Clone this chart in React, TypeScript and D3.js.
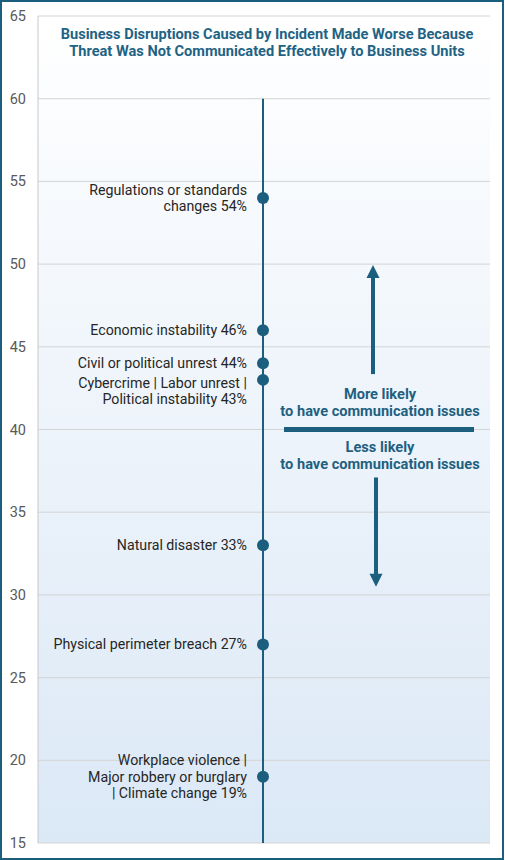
import React, { useEffect, useRef } from "react";
import * as d3 from "d3";

// Data
const labelLines: string[][] = [
  ["Regulations or standards", "changes 54%"],
  ["Economic instability 46%"],
  ["Civil or political unrest 44%"],
  ["Cybercrime | Labor unrest |", "Political instability 43%"],
  ["Natural disaster 33%"],
  ["Physical perimeter breach 27%"],
  ["Workplace violence |", "Major robbery or burglary", "| Climate change 19%"],
];
const values = [54, 46, 44, 43, 33, 27, 19];
const yTicks = [15, 20, 25, 30, 35, 40, 45, 50, 55, 60, 65];
const titleLines = [
  "Business Disruptions Caused by Incident Made Worse Because",
  "Threat Was Not Communicated Effectively to Business Units",
];
const moreLines = ["More likely", "to have communication issues"];
const lessLines = ["Less likely", "to have communication issues"];

const W = 505;
const H = 860;
const TEAL = "#1b5e7e";
const FONT = "Roboto, sans-serif";

const App = () => {
  const svgRef = useRef<SVGSVGElement | null>(null);

  useEffect(() => {
    if (!svgRef.current) return;
    const svg = d3.select(svgRef.current);
    svg.selectAll("*").remove();

    const left = 38, right = 490;
    const y = d3.scaleLinear().domain([15, 65]).range([843, 16]);
    const xLine = 263;

    // gradient
    const defs = svg.append("defs");
    const grad = defs.append("linearGradient")
      .attr("id", "bg").attr("x1", 0).attr("y1", 0).attr("x2", 0).attr("y2", 1);
    grad.append("stop").attr("offset", "0%").attr("stop-color", "#ffffff");
    grad.append("stop").attr("offset", "100%").attr("stop-color", "#dbe8f6");

    svg.append("rect")
      .attr("x", 0).attr("y", 0).attr("width", W).attr("height", H)
      .attr("fill", "#ffffff");

    // plot area
    svg.append("rect")
      .attr("x", left).attr("y", y(65))
      .attr("width", right - left).attr("height", y(15) - y(65))
      .attr("fill", "url(#bg)");

    // gridlines
    svg.append("g").selectAll("line").data(yTicks).join("line")
      .attr("x1", left).attr("x2", right)
      .attr("y1", d => y(d)).attr("y2", d => y(d))
      .attr("stroke", "#d4d4d4").attr("stroke-width", 1);
    svg.append("line")
      .attr("x1", left).attr("x2", left)
      .attr("y1", y(65)).attr("y2", y(15))
      .attr("stroke", "#c8c8c8").attr("stroke-width", 1);

    // tick labels
    svg.append("g").selectAll("text").data(yTicks).join("text")
      .attr("x", 26).attr("y", d => y(d))
      .attr("dy", "0.35em")
      .attr("text-anchor", "end")
      .attr("font-family", FONT).attr("font-size", "14.5px")
      .attr("fill", "#595959")
      .text(d => d);

    // title
    svg.append("g").selectAll("text").data(titleLines).join("text")
      .attr("x", 267).attr("y", (_, i) => 39 + i * 17)
      .attr("text-anchor", "middle")
      .attr("font-family", FONT).attr("font-size", "14.6px")
      .attr("font-weight", "bold")
      .attr("fill", "#1f6385")
      .text(d => d);

    // vertical stem
    svg.append("line")
      .attr("x1", xLine).attr("x2", xLine)
      .attr("y1", y(60)).attr("y2", y(15))
      .attr("stroke", TEAL).attr("stroke-width", 2);

    // points + labels
    const lineH = 16.5;
    values.forEach((v, i) => {
      const cy = y(v);
      svg.append("circle")
        .attr("cx", xLine).attr("cy", cy).attr("r", 6)
        .attr("fill", TEAL);

      const lines = labelLines[i];
      // the 43% label hangs below its point to clear the 44% label
      const start = i === 3 ? cy + 3 : cy - ((lines.length - 1) * lineH) / 2;
      lines.forEach((t, j) => {
        svg.append("text")
          .attr("x", 247).attr("y", start + j * lineH)
          .attr("dy", "0.35em")
          .attr("text-anchor", "end")
          .attr("font-family", FONT).attr("font-size", "14.2px")
          .attr("fill", "#262626")
          .text(t);
      });
    });

    // annotation: divider + arrows
    svg.append("line")
      .attr("x1", 284).attr("x2", 474)
      .attr("y1", y(40)).attr("y2", y(40))
      .attr("stroke", TEAL).attr("stroke-width", 5);

    const arrow = (x: number, from: number, to: number) => {
      const y0 = y(from), y1 = y(to);
      const dir = y1 < y0 ? -1 : 1;
      const head = 13, half = 6.5;
      svg.append("line")
        .attr("x1", x).attr("x2", x)
        .attr("y1", y0).attr("y2", y1 - dir * head + dir * 1)
        .attr("stroke", TEAL).attr("stroke-width", 4);
      svg.append("path")
        .attr("d", `M${x},${y1} L${x - half},${y1 - dir * head} L${x + half},${y1 - dir * head} Z`)
        .attr("fill", TEAL);
    };
    arrow(373, 43.35, 49.95);
    arrow(376, 37.1, 30.5);

    const annot = (lines: string[], y0: number) => {
      lines.forEach((t, j) => {
        svg.append("text")
          .attr("x", 380).attr("y", y0 + j * 17)
          .attr("dy", "0.35em")
          .attr("text-anchor", "middle")
          .attr("font-family", FONT).attr("font-size", "14.6px")
          .attr("font-weight", "bold")
          .attr("fill", "#1f5f80")
          .text(t);
      });
    };
    annot(moreLines, 394);
    annot(lessLines, 447);

    // outer frame
    svg.append("rect")
      .attr("x", 1).attr("y", 1).attr("width", W - 3).attr("height", H - 2)
      .attr("fill", "none")
      .attr("stroke", TEAL).attr("stroke-width", 2);
  }, []);

  return (
    <svg
      ref={svgRef}
      width={W}
      height={H}
      style={{ position: "fixed", top: 0, left: 0, display: "block" }}
    />
  );
};

export default App;
